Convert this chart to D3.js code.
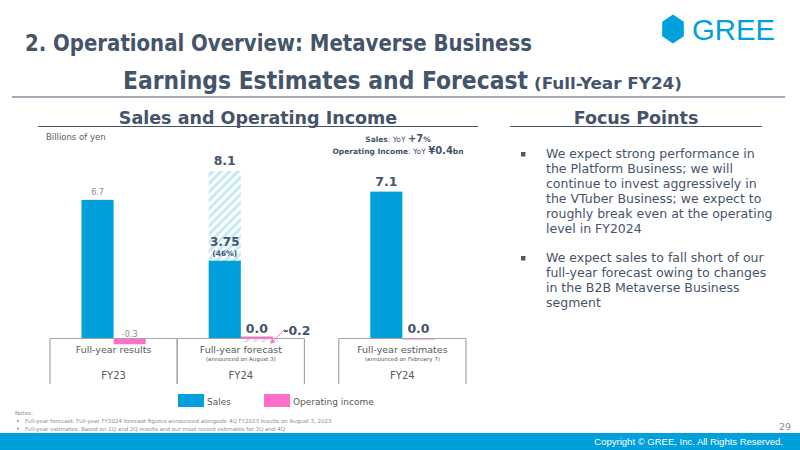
<!DOCTYPE html>
<html>
<head>
<meta charset="utf-8">
<script src="https://cdn.jsdelivr.net/npm/d3@7"></script>
<style>
  body { margin: 0; background: #fff; }
  svg { display: block; }
</style>
</head>
<body>
<svg width="800" height="450"></svg>
<script>
// chart data
var categories = ["Full-year results", "Full-year forecast", "Full-year estimates"];
var subLabels = ["", "(announced on August 3)", "(announced on February 7)"];
var years = ["FY23", "FY24", "FY24"];
var sales = [6.7, 8.1, 7.1];
var salesProgress = [null, 3.75, null];   // 1H progress inside forecast bar
var opIncome = [-0.3, -0.2, 0.0];
var opProgress = [null, 0.0, null];
var focusPoints = [
  ["We expect strong performance in", "the Platform Business; we will", "continue to invest aggressively in",
   "the VTuber Business; we expect to", "roughly break even at the operating", "level in FY2024"],
  ["We expect sales to fall short of our", "full-year forecast owing to changes", "in the B2B Metaverse Business", "segment"]
];
var notes = [
  "Full-year forecast: Full-year FY2024 forecast figures announced alongside 4Q FY2023 results on August 3, 2023",
  "Full-year estimates: Based on 1Q and 2Q results and our most recent estimates for 3Q and 4Q"
];

var blue = "#00a0dc", pink = "#ff6fc8", dark = "#44546a", grey = "#595959";
var font = "'DejaVu Sans', Verdana, sans-serif";
var cond = "'DejaVu Sans Condensed', 'DejaVu Sans', sans-serif";
var narrow = "'Liberation Sans Narrow', 'Liberation Sans', Arial, sans-serif";

var svg = d3.select("svg");

var defs = svg.append("defs");
function hatch(id, col) {
  var p = defs.append("pattern").attr("id", id)
    .attr("patternUnits", "userSpaceOnUse")
    .attr("width", 6).attr("height", 6)
    .attr("patternTransform", "rotate(45)");
  p.append("rect").attr("width", 6).attr("height", 6).attr("fill", "#fff");
  p.append("rect").attr("width", 3).attr("height", 6).attr("fill", col);
}
hatch("hatchBlue", "#c6e9f8");
hatch("hatchPink", "#ffd0ec");
defs.append("marker").attr("id", "arrow")
  .attr("viewBox", "0 0 10 10").attr("refX", 8).attr("refY", 5)
  .attr("markerWidth", 5).attr("markerHeight", 5).attr("orient", "auto")
  .append("path").attr("d", "M0,0L10,5L0,10z").attr("fill", pink);

// ---- header
svg.append("text").attr("x", 25).attr("y", 51)
  .attr("font-family", cond).attr("font-weight", "bold").attr("font-size", 23)
  .attr("fill", dark).attr("textLength", 507).attr("lengthAdjust", "spacingAndGlyphs")
  .text("2. Operational Overview: Metaverse Business");

// logo
var hex = d3.range(6).map(function(i) {
  var a = Math.PI / 3 * i - Math.PI / 2;
  return [673 + 12.5 * Math.cos(a), 29 + 14.5 * Math.sin(a)];
});
svg.append("path").attr("d", "M" + hex.join("L") + "Z").attr("fill", blue);
svg.append("text").attr("x", 692).attr("y", 40)
  .attr("font-family", "'Liberation Sans', Arial, sans-serif").attr("font-size", 29)
  .attr("fill", blue).attr("textLength", 83).attr("lengthAdjust", "spacingAndGlyphs")
  .text("GREE");

svg.append("text").attr("x", 123).attr("y", 89)
  .attr("font-family", cond).attr("font-weight", "bold").attr("font-size", 24)
  .attr("fill", dark).attr("textLength", 405).attr("lengthAdjust", "spacingAndGlyphs")
  .text("Earnings Estimates and Forecast");
svg.append("text").attr("x", 534).attr("y", 89)
  .attr("font-family", cond).attr("font-weight", "bold").attr("font-size", 16)
  .attr("fill", dark).attr("textLength", 148).attr("lengthAdjust", "spacingAndGlyphs")
  .text("(Full-Year FY24)");
svg.append("line").attr("x1", 12).attr("x2", 785).attr("y1", 97).attr("y2", 97)
  .attr("stroke", dark).attr("stroke-width", 1);

svg.append("text").attr("x", 258).attr("y", 124).attr("text-anchor", "middle")
  .attr("font-family", font).attr("font-weight", "bold").attr("font-size", 17.5)
  .attr("fill", dark).text("Sales and Operating Income");
svg.append("line").attr("x1", 38).attr("x2", 478).attr("y1", 126.5).attr("y2", 126.5)
  .attr("stroke", dark);
svg.append("text").attr("x", 636).attr("y", 124).attr("text-anchor", "middle")
  .attr("font-family", font).attr("font-weight", "bold").attr("font-size", 17.5)
  .attr("fill", dark).text("Focus Points");
svg.append("line").attr("x1", 510).attr("x2", 762).attr("y1", 126.5).attr("y2", 126.5)
  .attr("stroke", dark);

svg.append("text").attr("x", 46).attr("y", 140).attr("font-family", font)
  .attr("font-size", 8.5).attr("fill", grey).text("Billions of yen");

var yoy1 = svg.append("text").attr("x", 398).attr("y", 142).attr("text-anchor", "middle")
  .attr("font-family", font).attr("font-size", 7.5).attr("fill", dark);
yoy1.append("tspan").attr("font-weight", "bold").text("Sales");
yoy1.append("tspan").text(": YoY ");
yoy1.append("tspan").attr("font-weight", "bold").attr("font-size", 10).text("+7");
yoy1.append("tspan").attr("font-weight", "bold").text("%");
var yoy2 = svg.append("text").attr("x", 398).attr("y", 154).attr("text-anchor", "middle")
  .attr("font-family", font).attr("font-size", 7.5).attr("fill", dark);
yoy2.append("tspan").attr("font-weight", "bold").text("Operating Income");
yoy2.append("tspan").text(": YoY ");
yoy2.append("tspan").attr("font-weight", "bold").attr("font-size", 10).text("\u00a50.4");
yoy2.append("tspan").attr("font-weight", "bold").text("bn");

// ---- scales
var gapBefore = [0, 0, 0.27];
var x = d3.scaleLinear().domain([0, 3.27]).range([50, 466]);
var groupW = x(1) - x(0);
var x1 = d3.scaleBand().domain(["sales", "op"]).range([0, groupW]).paddingOuter(0.98);
var y = d3.scaleLinear().domain([0, 8.1]).range([338, 171]);
function gx(i) { return x(i + gapBefore[i]); }

var g = svg.append("g");
var idx = d3.range(categories.length);

// sales bars (forecast bar hatched, with progress part solid)
g.selectAll(".sales").data(idx).enter().append("rect")
  .attr("x", function(i) { return gx(i) + x1("sales"); })
  .attr("width", x1.bandwidth())
  .attr("y", function(i) { return y(sales[i]); })
  .attr("height", function(i) { return y(0) - y(sales[i]); })
  .attr("fill", function(i) { return salesProgress[i] != null ? "url(#hatchBlue)" : blue; });
g.selectAll(".salesProg").data(idx.filter(function(i) { return salesProgress[i] != null; }))
  .enter().append("rect")
  .attr("x", function(i) { return gx(i) + x1("sales"); })
  .attr("width", x1.bandwidth())
  .attr("y", function(i) { return y(salesProgress[i]); })
  .attr("height", function(i) { return y(0) - y(salesProgress[i]); })
  .attr("fill", blue);

// operating income bars
g.selectAll(".op").data(idx).enter().append("rect")
  .attr("x", function(i) { return gx(i) + x1("op"); })
  .attr("width", x1.bandwidth())
  .attr("y", function(i) { return Math.min(y(0), y(opIncome[i])); })
  .attr("height", function(i) { return Math.max(1.5, Math.abs(y(opIncome[i]) - y(0))); })
  .attr("fill", function(i) { return opProgress[i] != null ? "url(#hatchPink)" : pink; });
g.selectAll(".opProg").data(idx.filter(function(i) { return opProgress[i] != null; }))
  .enter().append("rect")
  .attr("x", function(i) { return gx(i) + x1("op"); })
  .attr("width", x1.bandwidth())
  .attr("y", function(i) { return y(opProgress[i]) - 1.5; })
  .attr("height", 1.5)
  .attr("fill", pink);

// axis frame
var frame = svg.append("g").attr("stroke", "#a6a6a6").attr("stroke-width", 1.2);
[[0, 1], [2]].forEach(function(run) {
  var a = gx(run[0]), b = gx(run[run.length - 1]) + groupW;
  frame.append("line").attr("x1", a).attr("x2", b).attr("y1", 338.5).attr("y2", 338.5);
});
idx.forEach(function(i) {
  [gx(i), gx(i) + groupW].forEach(function(px) {
    frame.append("line").attr("x1", px).attr("x2", px).attr("y1", 338.5).attr("y2", 384);
  });
});

// category labels
g.selectAll(".cat").data(idx).enter().append("text")
  .attr("x", function(i) { return gx(i) + groupW / 2; }).attr("y", 353)
  .attr("text-anchor", "middle").attr("font-family", font).attr("font-size", 9.5)
  .attr("fill", grey).text(function(i) { return categories[i]; });
g.selectAll(".catsub").data(idx).enter().append("text")
  .attr("x", function(i) { return gx(i) + groupW / 2; }).attr("y", 361)
  .attr("text-anchor", "middle").attr("font-family", font).attr("font-size", 5.5)
  .attr("fill", grey).text(function(i) { return subLabels[i]; });
g.selectAll(".yr").data(idx).enter().append("text")
  .attr("x", function(i) { return gx(i) + groupW / 2; }).attr("y", 379)
  .attr("text-anchor", "middle").attr("font-family", font).attr("font-size", 10)
  .attr("fill", grey).text(function(i) { return years[i]; });

// value labels
function lbl(px, py, txt, size, bold, col) {
  return svg.append("text").attr("x", px).attr("y", py).attr("text-anchor", "middle")
    .attr("font-family", font).attr("font-size", size)
    .attr("font-weight", bold ? "bold" : "normal").attr("fill", col).text(txt);
}
var sx = function(i) { return gx(i) + x1("sales") + x1.bandwidth() / 2; };
var ox = function(i) { return gx(i) + x1("op") + x1.bandwidth() / 2; };
lbl(sx(0), y(sales[0]) - 5, sales[0].toFixed(1), 8, false, "#8c8c8c");
lbl(sx(1), y(sales[1]) - 6, sales[1].toFixed(1), 12.5, true, dark);
lbl(sx(2), y(sales[2]) - 6, sales[2].toFixed(1), 12.5, true, dark);
lbl(sx(1), y(salesProgress[1]) - 15, salesProgress[1].toFixed(2), 12, true, dark);
lbl(sx(1), y(salesProgress[1]) - 5, "(" + Math.round(salesProgress[1] / sales[1] * 100) + "%)", 7.5, true, dark);
lbl(ox(0), y(0) - 1, opIncome[0].toFixed(1), 8, false, "#8c8c8c");
lbl(ox(1), y(opProgress[1]) - 5, opProgress[1].toFixed(1), 12.5, true, dark);
lbl(ox(2), y(opIncome[2]) - 5, opIncome[2].toFixed(1), 12.5, true, dark);
lbl(ox(1) + 40, y(0) - 3, opIncome[1].toFixed(1), 12.5, true, dark);
svg.append("line").attr("x1", ox(1) + 28).attr("y1", y(0) - 9)
  .attr("x2", ox(1) + 14).attr("y2", y(opIncome[1]) + 1)
  .attr("stroke", pink).attr("stroke-width", 1).attr("marker-end", "url(#arrow)");

// legend
var legend = [["Sales", blue], ["Operating income", pink]];
var lg = svg.selectAll(".lg").data(legend).enter().append("g")
  .attr("transform", function(d, i) { return "translate(" + (178 + i * 86) + ",394)"; });
lg.append("rect").attr("width", 26).attr("height", 13).attr("fill", function(d) { return d[1]; });
lg.append("text").attr("x", 29).attr("y", 10.5).attr("font-family", font).attr("font-size", 9)
  .attr("fill", grey).text(function(d) { return d[0]; });

// focus points
var fy = 158;
focusPoints.forEach(function(lines) {
  svg.append("rect").attr("x", 521).attr("y", fy - 6).attr("width", 4.5).attr("height", 4.5)
    .attr("fill", "#595959");
  lines.forEach(function(t, k) {
    svg.append("text").attr("x", 546).attr("y", fy + k * 15).attr("font-family", font)
      .attr("font-size", 12.5).attr("fill", dark).text(t);
  });
  fy += lines.length * 15 + 14;
});

// notes
svg.append("text").attr("x", 15).attr("y", 415).attr("font-family", font)
  .attr("font-size", 5.5).attr("fill", "#8c8c8c").text("Notes:");
notes.forEach(function(t, k) {
  svg.append("circle").attr("cx", 18).attr("cy", 421 + k * 7.5).attr("r", 1).attr("fill", "#8c8c8c");
  svg.append("text").attr("x", 25).attr("y", 423 + k * 7.5).attr("font-family", font)
    .attr("font-size", 5.5).attr("fill", "#8c8c8c").text(t);
});
svg.append("text").attr("x", 791).attr("y", 430).attr("text-anchor", "end")
  .attr("font-family", font).attr("font-size", 9.5).attr("fill", "#8c8c8c").text("29");

// footer
svg.append("rect").attr("x", 0).attr("y", 433).attr("width", 800).attr("height", 17).attr("fill", blue);
svg.append("text").attr("x", 783).attr("y", 445).attr("text-anchor", "end")
  .attr("font-family", narrow).attr("font-size", 9.5).attr("fill", "#fff")
  .text("Copyright \u00a9 GREE, Inc. All Rights Reserved.");
</script>
</body>
</html>
